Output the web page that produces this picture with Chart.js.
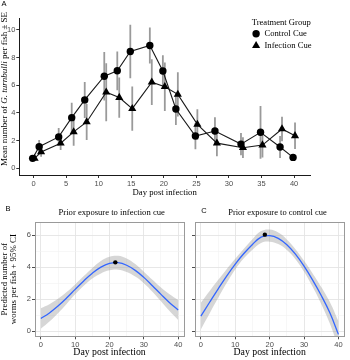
<!DOCTYPE html>
<html><head><meta charset="utf-8">
<script src="https://cdn.jsdelivr.net/npm/chart.js@4.4.1/dist/chart.umd.min.js"></script>
<style>
html,body{margin:0;padding:0;background:#fff;width:350px;height:360px;overflow:hidden;}
canvas{position:absolute;}
</style></head><body>
<canvas id="cA" width="350" height="200" style="left:0;top:0;width:350px;height:200px"></canvas>
<canvas id="cB" width="188" height="160" style="left:0;top:200px;width:188px;height:160px"></canvas>
<canvas id="cC" width="164" height="160" style="left:186px;top:200px;width:164px;height:160px"></canvas>
<script>
// ---------- Panel A data ----------
const days = [0, 1, 4, 6, 8, 11, 13, 15, 18, 20, 22, 25, 28, 32, 35, 38, 40];
const controlMean = [0.72, 1.56, 2.27, 3.66, 4.94, 6.65, 7.04, 8.43, 8.87, 7.02, 4.28, 2.33, 2.69, 1.75, 2.60, 1.54, 0.79];
const controlSE = [0.15, 0.48, 0.65, 1.08, 1.30, 1.75, 1.40, 1.93, 1.30, 1.15, 1.15, 0.95, 1.00, 0.80, 1.90, 0.80, 0.25];
const infectionMean = [0.72, 1.18, 1.81, 2.63, 3.35, 5.49, 5.11, 4.31, 6.22, 5.89, 5.34, 3.17, 1.82, 1.49, 1.68, 2.84, 2.35];
const infectionSE = [0.10, 0.35, 0.48, 1.00, 1.30, 2.10, 1.45, 1.60, 1.65, 1.75, 1.60, 1.10, 0.95, 0.75, 0.90, 0.88, 0.96];
const seriesNames = ['Control Cue', 'Infection Cue'];
const legendTitle = 'Treatment Group';
const xTicksA = [0, 5, 10, 15, 20, 25, 30, 35, 40];
const yTicksA = [0, 2, 4, 6, 8, 10];

// ---------- Panels B and C data ----------
const fitDays = [0, 2.5, 5, 7.5, 10, 12.5, 15, 17.5, 20, 22.5, 25, 27.5, 30, 32.5, 35, 37.5, 40];
const infFit   = [0.79, 1.14, 1.57, 2.07, 2.61, 3.14, 3.62, 4.00, 4.23, 4.28, 4.12, 3.80, 3.36, 2.84, 2.30, 1.78, 1.32];
const infUpper = [1.43, 1.68, 2.02, 2.44, 2.92, 3.44, 3.95, 4.39, 4.65, 4.71, 4.54, 4.19, 3.72, 3.21, 2.73, 2.30, 1.94];
const infLower = [0.15, 0.60, 1.12, 1.70, 2.30, 2.84, 3.29, 3.61, 3.80, 3.84, 3.70, 3.41, 3.00, 2.47, 1.87, 1.26, 0.70];
const ctlFit   = [0.94, 1.79, 2.63, 3.44, 4.19, 4.85, 5.42, 5.88, 5.97, 5.80, 5.40, 4.81, 4.06, 3.19, 2.23, 1.15, -0.20];
const ctlUpper = [1.77, 2.49, 3.19, 3.87, 4.52, 5.15, 5.75, 6.25, 6.35, 6.16, 5.73, 5.12, 4.40, 3.61, 2.76, 1.82, 0.62];
const ctlLower = [0.11, 1.09, 2.07, 3.01, 3.86, 4.55, 5.09, 5.51, 5.59, 5.44, 5.07, 4.50, 3.72, 2.77, 1.70, 0.48, -1.02];
const infPeakDay = [21.7], infPeakValue = [4.30];
const ctlPeakDay = [18.6], ctlPeakValue = [6.03];
const xMajorBC = [0, 10, 20, 30, 40];
const xMinorBC = [5, 15, 25, 35];
const yMajorBC = [0, 2, 4, 6];
const yMinorBC = [1, 3, 5];

// ---------- styling ----------
const serif = "'Liberation Serif', 'Times New Roman', serif";
const sans = "'Liberation Sans', Arial, sans-serif";
const tickFont = {family: sans, size: 7.5};
const tickColor = '#4d4d4d';
const dodge = 0.15;

// ---------- plugins ----------
const figText = {
  id: 'figText',
  afterDraw(chart, args, opts) {
    const ctx = chart.ctx;
    for (const it of (opts.items || [])) {
      ctx.save();
      ctx.translate(it.x, it.y);
      if (it.rotate) ctx.rotate(it.rotate);
      ctx.textBaseline = 'middle';
      ctx.textAlign = 'left';
      ctx.fillStyle = it.color || '#000';
      const parts = it.parts || [{text: it.text, style: ''}];
      const fonts = parts.map(p => ((p.style || '') + ' ' + it.size + 'px ' + it.family).trim());
      const widths = parts.map((p, i) => { ctx.font = fonts[i]; return ctx.measureText(p.text).width; });
      const total = widths.reduce((a, b) => a + b, 0);
      let x = it.align === 'left' ? 0 : (it.align === 'right' ? -total : -total / 2);
      parts.forEach((p, i) => { ctx.font = fonts[i]; ctx.fillText(p.text, x, 0); x += widths[i]; });
      ctx.restore();
    }
  }
};

const markerLegend = {
  id: 'markerLegend',
  afterDraw(chart, args, o) {
    if (!o || !o.title) return;
    const ctx = chart.ctx;
    ctx.save();
    ctx.fillStyle = '#000';
    ctx.textBaseline = 'middle';
    ctx.textAlign = 'left';
    ctx.font = o.size + 'px ' + serif;
    ctx.fillText(o.title, o.x, o.y);
    const items = chart.data.datasets.filter(d => seriesNames.includes(d.label));
    items.forEach((d, i) => {
      const y = o.y + o.firstGap + i * o.rowGap;
      ctx.fillStyle = '#000';
      Chart.helpers.drawPoint(ctx, {pointStyle: d.pointStyle, radius: d.pointRadius, rotation: 0, borderWidth: 0}, o.x + o.markerDx, y);
      ctx.fillStyle = '#000';
      ctx.font = o.size + 'px ' + serif;
      ctx.fillText(d.label, o.x + o.textDx, y);
    });
    ctx.restore();
  }
};

const panelBorder = {
  id: 'panelBorder',
  afterDatasetsDraw(chart, args, o) {
    if (!o || !o.color) return;
    const {left, top, right, bottom} = chart.chartArea;
    const ctx = chart.ctx;
    ctx.save();
    ctx.strokeStyle = o.color;
    ctx.lineWidth = 1;
    ctx.strokeRect(Math.floor(left) + 0.5, Math.floor(top) + 0.5, Math.round(right - left), Math.round(bottom - top));
    ctx.restore();
  }
};

// ---------- Panel A ----------
// error bars: one vertical segment per day, separated by gaps (null)
function errorSegments(offset, mean, se) {
  return days.flatMap((d, i) => [
    {x: d + offset, y: mean[i] - se[i]},
    {x: d + offset, y: mean[i] + se[i]},
    {x: d + offset, y: null}
  ]);
}
const errStyle = {type: 'line', borderColor: '#9a9a9a', borderWidth: 1.8, pointRadius: 0, spanGaps: false,
                  tension: 0, fill: false, borderCapStyle: 'butt'};
new Chart(document.getElementById('cA'), {
  type: 'line',
  data: {
    datasets: [
      Object.assign({label: 'Control SE', order: 3, data: errorSegments(-dodge, controlMean, controlSE)}, errStyle),
      Object.assign({label: 'Infection SE', order: 4, data: errorSegments(dodge, infectionMean, infectionSE)}, errStyle),
      {type: 'line', label: seriesNames[0], order: 1,
       data: days.map((d, i) => ({x: d - dodge, y: controlMean[i]})),
       borderColor: '#1a1a1a', borderWidth: 1.1, tension: 0, fill: false,
       pointStyle: 'circle', pointRadius: 3.7, pointBackgroundColor: '#000', pointBorderWidth: 0},
      {type: 'line', label: seriesNames[1], order: 2,
       data: days.map((d, i) => ({x: d + dodge, y: infectionMean[i]})),
       borderColor: '#1a1a1a', borderWidth: 1.1, tension: 0, fill: false,
       pointStyle: 'triangle', pointRadius: 4.7, pointBackgroundColor: '#000', pointBorderWidth: 0}
    ]
  },
  options: {
    responsive: false, animation: false, devicePixelRatio: 1, events: [],
    layout: {padding: {left: 0, right: 40, top: 18, bottom: 0}},
    scales: {
      x: {type: 'linear', min: -2.2, max: 42.45, offset: false,
          afterBuildTicks: s => { s.ticks = xTicksA.map(v => ({value: v})); },
          afterFit: s => { s.height = 25; },
          grid: {drawOnChartArea: false, drawTicks: true, tickLength: 3, tickColor: '#333', tickWidth: 1},
          border: {display: true, color: '#1a1a1a', width: 1},
          ticks: {font: tickFont, color: tickColor, padding: 1, maxRotation: 0, autoSkip: false},
          title: {display: true, text: 'Day post infection', color: '#000', font: {family: serif, size: 8.7}, padding: {top: 0, bottom: 2}}},
      y: {type: 'linear', min: -0.48, max: 10.85,
          afterBuildTicks: s => { s.ticks = yTicksA.map(v => ({value: v})); },
          afterFit: s => { s.width = 19.3; },
          grid: {drawOnChartArea: false, drawTicks: true, tickLength: 3, tickColor: '#333', tickWidth: 1},
          border: {display: true, color: '#1a1a1a', width: 1},
          ticks: {font: tickFont, color: tickColor, padding: 1, autoSkip: false}}
    },
    plugins: {
      legend: {display: false}, tooltip: {enabled: false},
      figText: {items: [
        {text: 'A', x: 4, y: 3.6, size: 7.5, family: sans},
        {parts: [{text: 'Mean number of '}, {text: 'G. turnbulli', style: 'italic'}, {text: ' per fish \u00b1 SE'}],
         x: 4.3, y: 89, size: 9, family: serif, rotate: -Math.PI / 2}
      ]},
      markerLegend: {title: legendTitle, x: 251.7, y: 22.3, size: 8.6, firstGap: 11.4, rowGap: 12, markerDx: 4.4, textDx: 12.8}
    }
  },
  plugins: [figText, markerLegend]
});

// ---------- helpers for B and C ----------
function bcScales(showYLabels, yWidth, yTitle) {
  const isXMajor = v => xMajorBC.includes(v);
  const isYMajor = v => yMajorBC.includes(v);
  const gridFor = isMajor => ({
    drawOnChartArea: true, drawTicks: true, tickLength: 3,
    color: c => (c.tick && isMajor(c.tick.value)) ? '#e4e4e4' : '#f2f2f2',
    lineWidth: c => (c.tick && isMajor(c.tick.value)) ? 0.9 : 0.6,
    tickColor: c => (c.tick && isMajor(c.tick.value)) ? '#4d4d4d' : 'rgba(0,0,0,0)',
    tickWidth: 1
  });
  return {
    x: {type: 'linear', min: -1.7, max: 41.7, offset: false,
        afterBuildTicks: s => { s.ticks = xMajorBC.concat(xMinorBC).sort((a, b) => a - b).map(v => ({value: v})); },
        afterFit: s => { s.height = 23.7; },
        grid: gridFor(isXMajor),
        border: {display: false},
        ticks: {font: tickFont, color: tickColor, padding: 1, maxRotation: 0, autoSkip: false,
                callback: v => isXMajor(v) ? String(v) : ''},
        title: {display: true, text: 'Day post infection', color: '#000', font: {family: serif, size: 9.8}, padding: {top: 0, bottom: 2}}},
    y: {type: 'linear', min: -0.32, max: 6.82,
        afterBuildTicks: s => { s.ticks = yMajorBC.concat(yMinorBC).sort((a, b) => a - b).map(v => ({value: v})); },
        afterFit: s => { s.width = yWidth; },
        grid: gridFor(isYMajor),
        border: {display: false},
        ticks: {font: tickFont, color: tickColor, padding: 1, autoSkip: false,
                callback: v => (showYLabels && isYMajor(v)) ? String(v) : ''},
        title: yTitle ? {display: true, text: yTitle, color: '#000', font: {family: serif, size: 8.9, lineHeight: 0.95}, padding: {top: 0.8, bottom: 0}} : {display: false}}
  };
}

function bcDatasets(fit, upper, lower, peakDay, peakValue) {
  const pts = arr => fitDays.map((d, i) => ({x: d, y: arr[i]}));
  return [
    {type: 'line', label: 'upper', data: pts(upper), borderWidth: 0, pointRadius: 0, tension: 0.4,
     fill: '+1', backgroundColor: 'rgba(153,153,153,0.4)', order: 3},
    {type: 'line', label: 'lower', data: pts(lower), borderWidth: 0, pointRadius: 0, tension: 0.4, fill: false, order: 3},
    {type: 'line', label: 'fit', data: pts(fit), borderColor: '#3366FF', borderWidth: 1.3, pointRadius: 0, tension: 0.4, fill: false, order: 2},
    {type: 'line', label: 'peak', data: peakDay.map((d, i) => ({x: d, y: peakValue[i]})), showLine: false,
     pointRadius: 2.2, pointBackgroundColor: '#000', pointBorderWidth: 0, order: 1}
  ];
}

// ---------- Panel B ----------
new Chart(document.getElementById('cB'), {
  type: 'line',
  data: {datasets: bcDatasets(infFit, infUpper, infLower, infPeakDay, infPeakValue)},
  options: {
    responsive: false, animation: false, devicePixelRatio: 1, events: [],
    layout: {padding: {left: 0, right: 2.3, top: 22, bottom: 0}},
    scales: bcScales(true, 35, ['Predicted number of', 'worms per fish + 95% CI']),
    plugins: {
      legend: {display: false}, tooltip: {enabled: false},
      panelBorder: {color: '#9a9a9a'},
      figText: {items: [
        {text: 'B', x: 8, y: 9, size: 7.5, family: sans},
        {text: 'Prior exposure to infection cue', x: 111.7, y: 12.3, size: 8.65, family: serif}
      ]}
    }
  },
  plugins: [panelBorder, figText]
});

// ---------- Panel C ----------
new Chart(document.getElementById('cC'), {
  type: 'line',
  data: {datasets: bcDatasets(ctlFit, ctlUpper, ctlLower, ctlPeakDay, ctlPeakValue)},
  options: {
    responsive: false, animation: false, devicePixelRatio: 1, events: [],
    layout: {padding: {left: 0, right: 5.7, top: 22, bottom: 0}},
    scales: bcScales(false, 9, null),
    plugins: {
      legend: {display: false}, tooltip: {enabled: false},
      panelBorder: {color: '#9a9a9a'},
      figText: {items: [
        {text: 'C', x: 18, y: 11, size: 7.5, family: sans},
        {text: 'Prior exposure to control cue', x: 91.5, y: 12.3, size: 8.5, family: serif}
      ]}
    }
  },
  plugins: [panelBorder, figText]
});
</script>
</body></html>
